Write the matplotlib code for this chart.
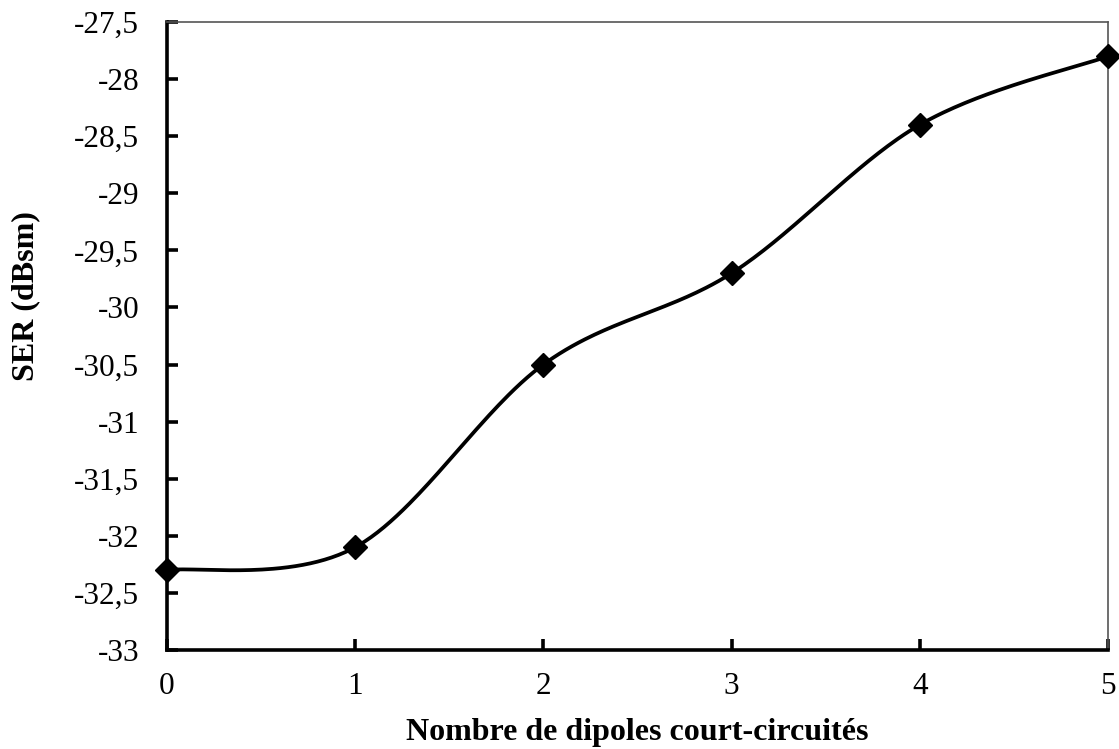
import numpy as np
import matplotlib
matplotlib.use("Agg")
import matplotlib.pyplot as plt
from matplotlib.ticker import FuncFormatter

matplotlib.rcParams.update({
    'font.family': 'Liberation Serif',
})

dipoles = [0, 1, 2, 3, 4, 5]
ser = [-32.3, -32.1, -30.5, -29.7, -28.4, -27.8]


def smooth(xs, ys, n=60):
    # Excel-like smoothed line: Catmull-Rom through the points
    px = [xs[0]] + list(xs) + [xs[-1]]
    py = [ys[0]] + list(ys) + [ys[-1]]
    ox, oy = [], []
    t = np.linspace(0, 1, n)
    for i in range(1, len(px) - 2):
        p0 = np.array([px[i], py[i]])
        p3 = np.array([px[i+1], py[i+1]])
        p1 = p0 + (np.array([px[i+1], py[i+1]]) - np.array([px[i-1], py[i-1]])) / 6
        p2 = p3 - (np.array([px[i+2], py[i+2]]) - np.array([px[i], py[i]])) / 6
        b = ((1-t)**3)[:, None]*p0 + (3*(1-t)**2*t)[:, None]*p1 + (3*(1-t)*t**2)[:, None]*p2 + (t**3)[:, None]*p3
        ox.extend(b[:, 0]); oy.extend(b[:, 1])
    return ox, oy


fig = plt.figure(figsize=(11.19, 7.49), dpi=100)
ax = fig.add_axes([0.1492, 0.1322, 0.8410, 0.8384])

sx, sy = smooth(dipoles, ser)
ax.plot(sx, sy, c="black", lw=2.7, solid_capstyle="round")
ax.plot(dipoles, ser, ls="none", marker="D", ms=12, c="black", clip_on=False, zorder=5)

ax.set_xlim(0, 5)
ax.set_ylim(-33, -27.5)
ax.set_xticks(dipoles)
ax.set_yticks(np.arange(-33, -27.49, 0.5))
ax.yaxis.set_major_formatter(FuncFormatter(lambda v, p: ("%g" % v).replace(".", ",")))

for s in ["left", "bottom"]:
    ax.spines[s].set_linewidth(2.6)
for s in ["top", "right"]:
    ax.spines[s].set_linewidth(1.2)
    ax.spines[s].set_color("#555555")

ax.tick_params(direction="in", length=8, width=2.6, labelsize=22.5)
ax.tick_params(axis="y", pad=20)
ax.tick_params(axis="x", pad=16)

ax.set_xlabel("Nombre de dipoles court-circuités", fontsize=23, fontweight="bold")
ax.set_ylabel("SER (dBsm)", fontsize=23, fontweight="bold")
ax.xaxis.set_label_coords(0.5, -0.108)
ax.yaxis.set_label_coords(-0.135, 0.564)

plt.savefig("out.png", dpi=100)
